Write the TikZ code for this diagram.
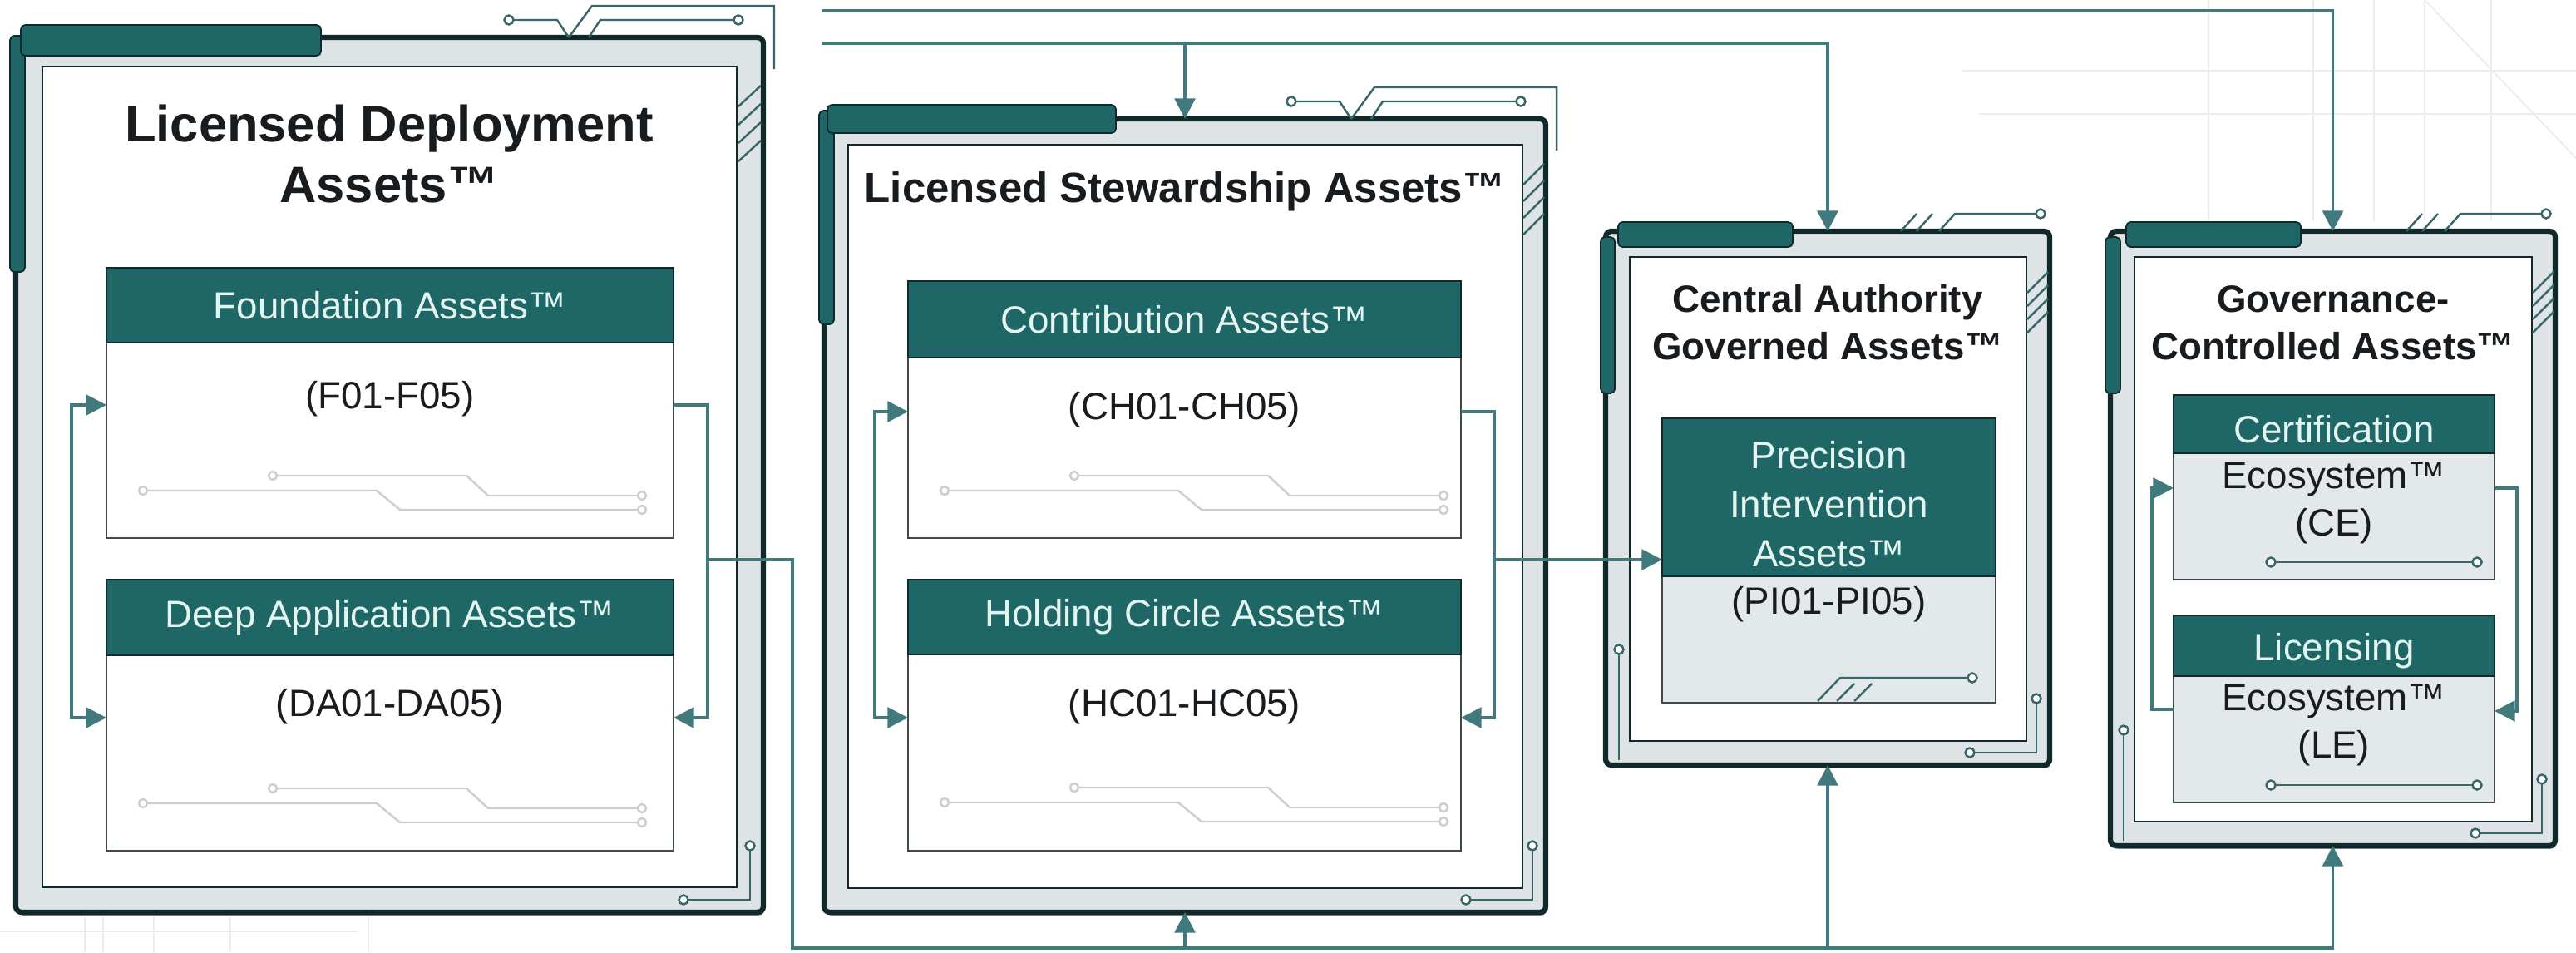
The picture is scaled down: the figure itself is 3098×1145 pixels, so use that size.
\documentclass[tikz,border=0pt]{standalone}
\usepackage{fontspec}
\setmainfont{Liberation Sans}
\usetikzlibrary{arrows.meta,shadows}
\definecolor{cteal}{rgb}{0.12, 0.40, 0.40}
\definecolor{cdark}{rgb}{0.07, 0.16, 0.17}
\definecolor{cband}{rgb}{0.87, 0.89, 0.90}
\definecolor{clink}{rgb}{0.25, 0.48, 0.49}
\definecolor{cmint}{rgb}{0.89, 0.96, 0.94}
\definecolor{cpale}{rgb}{0.89, 0.91, 0.92}
\definecolor{ctrace}{rgb}{0.80, 0.81, 0.81}
\definecolor{cpcb}{rgb}{0.22, 0.40, 0.41}
\definecolor{cedge}{rgb}{0.25, 0.29, 0.30}
\definecolor{cfaint}{rgb}{0.92, 0.93, 0.93}
\definecolor{ctext}{rgb}{0.10, 0.11, 0.12}

% pistes claires dans un bloc
\newcommand{\pistes}[1]{%
	\begin{scope}[shift={(#1)}]
		\draw[trace] (44,178) -- (325,178) -- (353,201) -- (644,201);
		\draw[trace] (200,160) -- (433,160) -- (459,184) -- (644,184);
		\foreach \a/\b in {44/178, 644/201, 200/160, 644/184}
			\draw[trace, fill=white] (\a,\b) circle (0.5mm);
	\end{scope}}
% circuit au-dessus d'un grand cadre
\newcommand{\circuithaut}[1]{%
	\begin{scope}[shift={(#1.north east)}]
		\draw[pcb] (-306,-21) -- (-248,-21) -- (-234,0);
		\draw[pcb] (-210,0) -- (-196,-21) -- (-30,-21);
		\draw[pcb] (-234,0) -- (-206,-38) -- (13,-38) -- (13,38);
		\draw[pcb, fill=white] (-306,-21) circle (0.55mm) (-30,-21) circle (0.55mm);
	\end{scope}}
% circuit au-dessus d'un petit cadre
\newcommand{\circuitcourt}[1]{%
	\begin{scope}[shift={(#1.north east)}]
		\draw[pcb] (-179,0) -- (-160,-21) (-160,0) -- (-141,-21);
		\draw[pcb] (-133,0) -- (-114,-21) -- (-11,-21);
		\draw[pcb, fill=white] (-11,-21) circle (0.55mm);
	\end{scope}}
% circuit dans le coin bas droit
\newcommand{\circuitcoin}[1]{%
	\begin{scope}[shift={(#1.south east)}]
		\draw[pcb] (-16,-80) -- (-16,-15) -- (-96,-15);
		\draw[pcb, fill=white] (-16,-80) circle (0.55mm) (-96,-15) circle (0.55mm);
	\end{scope}}

\begin{document}
\begin{tikzpicture}[x=0.1mm, y=-0.1mm, >={Triangle[length=7pt,width=7pt]}]
	\tikzstyle{frame}=[draw=cdark, line width=1.8pt, fill=cband, rounded corners=2pt, inner sep=0pt, outer sep=0pt,
		drop shadow={shadow xshift=0.15mm, shadow yshift=-0.35mm, fill=cdark, opacity=0.85}]
	\tikzstyle{panel}=[draw=cdark, line width=0.8pt, fill=white]
	\tikzstyle{tab}=[draw=cdark, line width=0.5pt, fill=cteal, rounded corners=1.5pt]
	\tikzstyle{head}=[draw=cdark, line width=0.5pt, fill=cteal, text=cmint, inner sep=0pt, outer sep=0pt, align=center, font=\fontsize{13}{16.5}\selectfont]
	\tikzstyle{headtxt}=[text=cmint, align=center, font=\fontsize{13}{16.8}\selectfont]
	\tikzstyle{body}=[draw=cedge, line width=0.8pt, fill=white, inner sep=0pt, outer sep=0pt]
	\tikzstyle{title}=[text=ctext, align=center, font=\bfseries\fontsize{13}{16.2}\selectfont]
	\tikzstyle{code}=[text=ctext, align=center, font=\fontsize{13}{16.5}\selectfont]
	\tikzstyle{link}=[draw=clink, line width=1.1pt]
	\tikzstyle{pcb}=[draw=cpcb, line width=0.7pt]
	\tikzstyle{trace}=[draw=ctrace, line width=0.7pt]
	\tikzstyle{faint}=[draw=cfaint, line width=0.5pt]

	\useasboundingbox (0,0) rectangle (3098,1145);
	\fill[white] (0,0) rectangle (3098,1145);

	% FOND
	\foreach \x in {2656,2782,2855,2916,2996}
		\draw[faint] (\x,0) -- (\x,265);
	\draw[faint] (2360,85) -- (3098,85);
	\draw[faint] (2380,137) -- (3098,137);
	\draw[faint] (2916,0) -- (3098,190);
	\draw[faint] (0,1120) -- (430,1120);
	\foreach \x in {102,124,185,277,443}
		\draw[faint] (\x,1103) -- (\x,1145);

	% CADRES
	\node[frame, minimum width=89.9mm, minimum height=105.2mm] (LDA) at (468.5,571) {};
	\node[frame, minimum width=86.8mm, minimum height=95.4mm] (LSA) at (1425,620) {};
	\node[frame, minimum width=53.4mm, minimum height=64.2mm] (CAG) at (2198,599) {};
	\node[frame, minimum width=53.5mm, minimum height=73.9mm] (GCA) at (2805.5,647.5) {};

	\draw[panel] ([shift={(32,35)}]LDA.north west) rectangle ([shift={(-32,-30)}]LDA.south east);
	\foreach \f in {LSA,CAG,GCA}
		\draw[panel] ([shift={(29,31)}]\f.north west) rectangle ([shift={(-28,-29)}]\f.south east);

	\draw[tab] ([shift={(-7,-2)}]LDA.north west) rectangle ([shift={(11,282)}]LDA.north west);
	\draw[tab] ([shift={(6,-15)}]LDA.north west) rectangle ([shift={(367,22)}]LDA.north west);
	\draw[tab] ([shift={(-6,-10)}]LSA.north west) rectangle ([shift={(12,247)}]LSA.north west);
	\draw[tab] ([shift={(4,-17)}]LSA.north west) rectangle ([shift={(351,17)}]LSA.north west);
	\draw[tab] ([shift={(-6,7)}]CAG.north west) rectangle ([shift={(11,195)}]CAG.north west);
	\draw[tab] ([shift={(15,-11)}]CAG.north west) rectangle ([shift={(225,19)}]CAG.north west);
	\draw[tab] ([shift={(-6,7)}]GCA.north west) rectangle ([shift={(12,195)}]GCA.north west);
	\draw[tab] ([shift={(19,-11)}]GCA.north west) rectangle ([shift={(229,19)}]GCA.north west);

	% HACHURES
	\foreach \k in {0,22,44,66}
		\draw[pcb] ([shift={(-30,83+\k)}]LDA.north east) -- ([shift={(-3,58+\k)}]LDA.north east);
	\foreach \k in {0,20,40,60}
		\draw[pcb] ([shift={(-27,79+\k)}]LSA.north east) -- ([shift={(-2,54+\k)}]LSA.north east);
	\foreach \f in {CAG,GCA}
		\foreach \k in {0,16,32,48}
			\draw[pcb] ([shift={(-27,74+\k)}]\f.north east) -- ([shift={(-2,49+\k)}]\f.north east);

	% CIRCUITS
	\circuithaut{LDA}
	\circuithaut{LSA}
	\circuitcourt{CAG}
	\circuitcourt{GCA}
	\circuitcoin{LDA}
	\circuitcoin{LSA}
	\circuitcoin{CAG}
	\circuitcoin{GCA}
	\foreach \f in {CAG,GCA} {
		\draw[pcb] ([shift={(16,-139)}]\f.south west) -- ([shift={(16,-6)}]\f.south west);
		\draw[pcb, fill=white] ([shift={(16,-139)}]\f.south west) circle (0.55mm);
	}

	% TITRES
	\node[title, font=\bfseries\fontsize{17.5}{21}\selectfont] (tLDA) at (468,185) {Licensed Deployment\\Assets™};
	\node[title, font=\bfseries\fontsize{14.5}{17}\selectfont] (tLSA) at (1425,230) {Licensed Stewardship Assets™};
	\node[title] (tCAG) at (2198,388) {Central Authority\\Governed Assets™};
	\node[title] (tGCA) at (2806,388) {Governance-\\Controlled Assets™};

	% BLOCS
	\node[body, minimum width=68.2mm, minimum height=23.5mm] (F) at (469,529.5) {};
	\node[head, minimum width=68.2mm, minimum height=9mm] (Fh) at (469,367) {Foundation Assets™};
	\node[body, minimum width=68.2mm, minimum height=23.5mm] (DA) at (469,905.5) {};
	\node[head, minimum width=68.2mm, minimum height=9.1mm] (DAh) at (469,742.5) {Deep Application Assets™};
	\node[body, minimum width=66.5mm, minimum height=21.7mm] (CH) at (1424.5,538.5) {};
	\node[head, minimum width=66.5mm, minimum height=9.2mm] (CHh) at (1424.5,384) {Contribution Assets™};
	\node[body, minimum width=66.5mm, minimum height=23.6mm] (HC) at (1424.5,905) {};
	\node[head, minimum width=66.5mm, minimum height=9mm] (HCh) at (1424.5,742) {Holding Circle Assets™};
	\node[body, fill=cpale, minimum width=40.1mm, minimum height=15.2mm] (PI) at (2199.5,769) {};
	\node[head, minimum width=40.1mm, minimum height=19mm] (PIh) at (2199.5,598) {};
	\node[body, fill=cpale, minimum width=38.6mm, minimum height=15.2mm] (CE) at (2807,621) {};
	\node[head, minimum width=38.6mm, minimum height=7mm] (CEh) at (2807,510) {};
	\node[body, fill=cpale, minimum width=38.6mm, minimum height=15.2mm] (LE) at (2807,889) {};
	\node[head, minimum width=38.6mm, minimum height=7.3mm] (LEh) at (2807,776.5) {};

	\node[headtxt] (tPI) at (2199.5,606) {Precision\\Intervention\\Assets™};
	\node[headtxt] (tCE) at (2807,516) {Certification};
	\node[headtxt] (tLE) at (2807,783) {Licensing};

	\pistes{F.north west}
	\pistes{DA.north west}
	\pistes{[yshift=1.8mm]CH.north west}
	\pistes{HC.north west}
	\begin{scope}[shift={(PI.south east)}]
		\draw[pcb] (-28,-30) -- (-187,-30) -- (-214,-2);
		\draw[pcb] (-191,-2) -- (-170,-23) (-170,-2) -- (-149,-23);
		\draw[pcb, fill=white] (-28,-30) circle (0.55mm);
	\end{scope}
	\foreach \b in {CE,LE} {
		\draw[pcb] ([shift={(117,-21)}]\b.south west) -- ([shift={(-21,-21)}]\b.south east);
		\draw[pcb, fill=white] ([shift={(117,-21)}]\b.south west) circle (0.55mm) ([shift={(-21,-21)}]\b.south east) circle (0.55mm);
	}

	% CODES
	\node[code] (cF) at (469,480) {(F01-F05)};
	\node[code] (cDA) at (469,850) {(DA01-DA05)};
	\node[code] (cCH) at (1424.5,493) {(CH01-CH05)};
	\node[code] (cHC) at (1424.5,850) {(HC01-HC05)};
	\node[code] (cPI) at (2199.5,727) {(PI01-PI05)};
	\node[code] (cCE) at (2807,605) {Ecosystem™\\(CE)};
	\node[code] (cLE) at (2807,872) {Ecosystem™\\(LE)};

	% LIENS
	\coordinate (srcA) at (988,13);
	\coordinate (srcB) at (988,52);
	\coordinate (jF) at (851,673);
	\coordinate (jC) at (1797,673);
	\coordinate (bus) at (953,1140);

	\draw[link,->] (srcA) -| (GCA.north);
	\draw[link,->] (srcB) -| (CAG.north);
	\draw[link,->] (srcB -| LSA.north) -- (LSA.north);

	\draw[link,<->] ([yshift=4.25mm]F.west) -- ++(-42,0) |- ([yshift=4.25mm]DA.west);
	\draw[link,->] ([yshift=4.25mm]F.east) -- ++(41,0) |- ([yshift=4.25mm]DA.east);
	\draw[link,<->] ([yshift=4.35mm]CH.west) -- ++(-40,0) |- ([yshift=4.2mm]HC.west);
	\draw[link,->] ([yshift=4.35mm]CH.east) -- ++(40,0) |- ([yshift=4.2mm]HC.east);
	\draw[link,->] ([yshift=3.6mm]LE.west) -- ++(-26,0) |- ([yshift=3.4mm]CE.west);
	\draw[link,->] ([yshift=3.4mm]CE.east) -- ++(27,0) |- ([yshift=3.4mm]LE.east);

	\draw[link,->] (jC) -- (jC -| PIh.west);
	\draw[link,->] (jF) -| (bus) -| (GCA.south);
	\draw[link,->] (bus -| LSA.south) -- (LSA.south);
	\draw[link,->] (bus -| CAG.south) -- (CAG.south);
\end{tikzpicture}
\end{document}
